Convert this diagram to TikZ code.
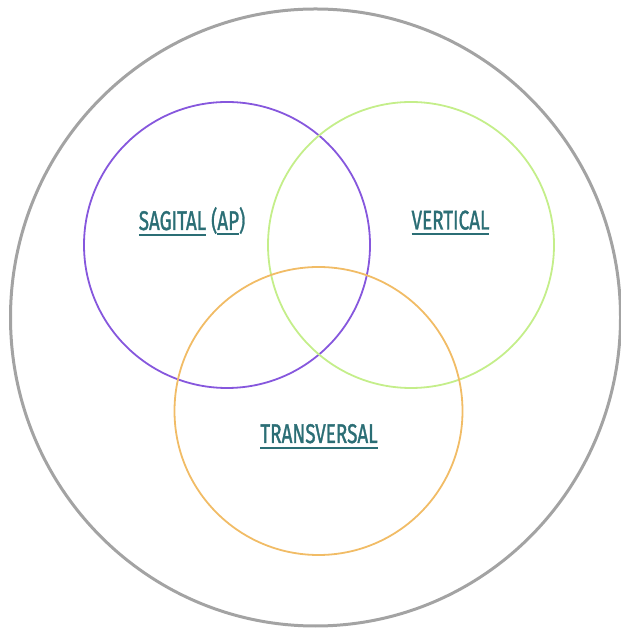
\documentclass[tikz,border=0pt]{standalone}
\usepackage{fontspec}
\setmainfont{Fira Sans}
\newfontfamily\labelfont{Fira Sans}[RawFeature={embolden=1.5}]
\usepackage{graphicx}
\definecolor{ringgray}{HTML}{A3A3A3}
\definecolor{sagpurple}{HTML}{8657DD}
\definecolor{vertgreen}{HTML}{C4EE8A}
\definecolor{transorange}{HTML}{F1BC66}
\definecolor{labelteal}{HTML}{2B6E75}
\tikzset{
  ring/.style={draw=ringgray, line width=3pt},
  setcircle/.style={line width=1.8pt},
  setlabel/.style={text=labelteal, font=\labelfont\fontsize{27}{29}\selectfont, inner sep=0pt, anchor=base}
}
\newcommand{\myul}[1]{\leavevmode\vtop{\hbox{#1}\kern3.2pt\hrule height 2.2pt}}
\newcommand{\narrowtxt}[1]{\scalebox{0.70}[1]{#1}}
\begin{document}
\begin{tikzpicture}[x=1pt,y=1pt]
\useasboundingbox (0,0) rectangle (620,628);
\draw[ring] (315.5,310.5) ellipse [x radius=305, y radius=308.5];
\draw[setcircle, draw=sagpurple] (227,383) circle [radius=143];
\draw[setcircle, draw=vertgreen] (411,383) circle [radius=143];
\draw[setcircle, draw=transorange] (318.5,217) circle [radius=144];
\node[setlabel] (sag) at (192,398) {\narrowtxt{\myul{SAGITAL} (\myul{AP})}};
\node[setlabel] (vert) at (450.5,398.5) {\narrowtxt{\myul{VERTICAL}}};
\node[setlabel] (trans) at (319,185) {\narrowtxt{\myul{TRANSVERSAL}}};
\end{tikzpicture}
\end{document}
